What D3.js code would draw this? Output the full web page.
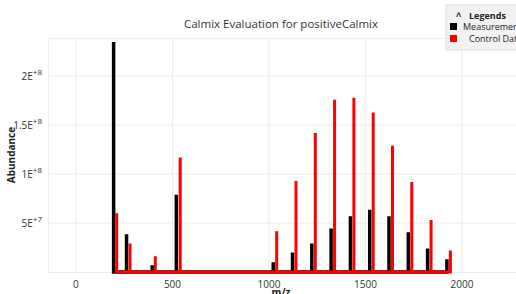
<!DOCTYPE html>
<html>
<head>
<meta charset="utf-8">
<script src="https://cdn.jsdelivr.net/npm/d3@7"></script>
<style>
  body { margin: 0; background: #fff; }
  svg { display: block; font-family: "Segoe UI", "Open Sans", sans-serif; }
</style>
</head>
<body>
<svg width="516" height="294"></svg>
<script>
// measured peaks (m/z, abundance)
var measMz = [195, 262, 395, 520, 1022, 1122, 1222, 1322, 1422, 1522, 1622, 1722, 1822, 1922];
var measAb = [2.35e8, 3.85e7, 7e6, 7.9e7, 1.0e7, 2.0e7, 2.9e7, 4.45e7, 5.7e7, 6.35e7, 5.7e7, 4.05e7, 2.4e7, 1.3e7];
// control data peaks
var ctrlMz = [211, 280, 411, 540, 1040, 1140, 1240, 1340, 1440, 1540, 1640, 1740, 1840, 1940];
var ctrlAb = [6.0e7, 2.9e7, 1.6e7, 1.17e8, 4.15e7, 9.3e7, 1.42e8, 1.76e8, 1.78e8, 1.63e8, 1.29e8, 9.2e7, 5.3e7, 2.2e7];

var xTicks = [0, 500, 1000, 1500, 2000];
var yTicks = [5e7, 1e8, 1.5e8, 2e8];
var legendNames = ["Measurement", "Control Data"];
var colors = ["#000000", "#ff0000"];

var svg = d3.select("svg"),
    pLeft = 48, pRight = 516, pTop = 38, pBottom = 272;

var x = d3.scaleLinear().domain([-145, 2280]).range([pLeft, pRight]);
var y = d3.scaleLinear().domain([0, 2.39e8]).range([pBottom, pTop]);

// grid
var grid = svg.append("g").attr("stroke", "#ececec").attr("stroke-width", 1);
grid.selectAll(".vx").data(xTicks).enter().append("line")
    .attr("x1", d => x(d)).attr("x2", d => x(d))
    .attr("y1", pTop).attr("y2", pBottom);
grid.selectAll(".hy").data(yTicks).enter().append("line")
    .attr("x1", pLeft).attr("x2", pRight)
    .attr("y1", d => y(d)).attr("y2", d => y(d));
grid.append("rect")
    .attr("x", pLeft + 0.5).attr("y", pTop + 0.5)
    .attr("width", pRight - pLeft + 10).attr("height", pBottom - pTop)
    .attr("fill", "none");

// tick labels
svg.append("g").selectAll("text").data(xTicks).enter().append("text")
    .attr("x", d => x(d)).attr("y", 288)
    .attr("text-anchor", "middle")
    .attr("font-size", 10).attr("fill", "#333")
    .text(d => d);

var yl = svg.append("g").selectAll("text").data(yTicks).enter().append("text")
    .attr("x", 42).attr("y", d => y(d) + 4)
    .attr("text-anchor", "end")
    .attr("font-size", 10).attr("fill", "#333");
yl.append("tspan").text(function (d) {
    var e = Math.floor(Math.log10(d));
    return (d / Math.pow(10, e)) + "E";
});
yl.append("tspan").attr("dy", -5).attr("font-size", 8)
    .text(d => "+" + Math.floor(Math.log10(d)));

// titles
svg.append("text").attr("x", 281).attr("y", 28)
    .attr("text-anchor", "middle").attr("font-size", 11.5).attr("fill", "#333")
    .text("Calmix Evaluation for positiveCalmix");
svg.append("text").attr("x", 281).attr("y", 296)
    .attr("text-anchor", "middle").attr("font-size", 10).attr("font-weight", "bold")
    .attr("fill", "#222").text("m/z");
svg.append("text").attr("transform", "translate(15,155) rotate(-90)")
    .attr("text-anchor", "middle").attr("font-size", 10).attr("font-weight", "bold")
    .attr("fill", "#222").text("Abundance");

// stick spectra drawn as one path per series, starting at the first measured peak
function stickPath(mz, ab, start) {
    var p = d3.path();
    p.moveTo(x(start), y(0));
    mz.forEach(function (m, i) {
        p.lineTo(x(m), y(0));
        p.lineTo(x(m), y(ab[i]));
        p.lineTo(x(m), y(0));
    });
    return p.toString();
}

svg.append("path").attr("d", stickPath(measMz, measAb, measMz[0]))
    .attr("fill", "none").attr("stroke", colors[0]).attr("stroke-width", 3.5);
svg.append("path").attr("d", stickPath(ctrlMz, ctrlAb, measMz[0] + 8))
    .attr("fill", "none").attr("stroke", colors[1]).attr("stroke-width", 3);

// legend
var lg = svg.append("g").attr("transform", "translate(446,5)");
lg.append("rect").attr("width", 80).attr("height", 45)
    .attr("fill", "#f2f2f2").attr("stroke", "#e0e0e0");
lg.append("text").attr("x", 10).attr("y", 13).attr("font-size", 9)
    .attr("font-weight", "bold").attr("fill", "#222").text("\u02c4");
lg.append("text").attr("x", 23).attr("y", 14).attr("font-size", 9)
    .attr("font-weight", "bold").attr("fill", "#222").text("Legends");
legendNames.forEach(function (n, i) {
    lg.append("rect").attr("x", 4).attr("y", 18 + i * 12).attr("width", 7).attr("height", 7)
        .attr("fill", colors[i]);
    lg.append("text").attr("x", i == 0 ? 17 : 23).attr("y", 25 + i * 12)
        .attr("font-size", 9).attr("fill", "#222").text(n);
});
</script>
</body>
</html>
